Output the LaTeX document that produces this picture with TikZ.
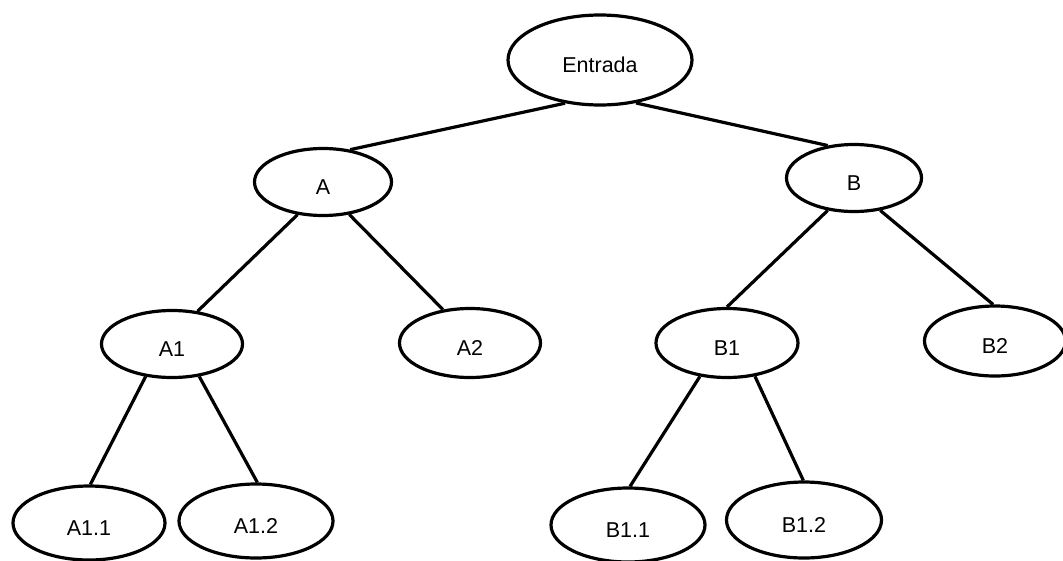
\documentclass[tikz,border=0pt]{standalone}
\usepackage{fontspec}
\setmainfont{Liberation Sans}
\usetikzlibrary{shapes.geometric}
\tikzset{
  nodo/.style={ellipse,draw,line width=3.2pt,inner sep=0pt,
    font=\fontsize{21.5}{24}\selectfont,text height=25pt,text depth=0pt},
  rama/.style={line width=3.2pt}
}
\begin{document}
\begin{tikzpicture}[x=1pt,y=-1pt,line cap=butt,line join=round]
  \useasboundingbox (0,0) rectangle (1063,560);
  \node[nodo,minimum width=184pt,minimum height=90pt] (ent) at (600,60) {Entrada};
  \node[nodo,minimum width=137pt,minimum height=67pt] (a) at (323,182) {A};
  \node[nodo,minimum width=135pt,minimum height=67pt] (b) at (854,178) {B};
  \node[nodo,minimum width=141pt,minimum height=67pt] (a1) at (172,344) {A1};
  \node[nodo,minimum width=141pt,minimum height=69pt] (a2) at (470,343) {A2};
  \node[nodo,minimum width=142pt,minimum height=69pt] (b1) at (727,343) {B1};
  \node[nodo,minimum width=141pt,minimum height=70pt] (b2) at (995,341) {B2};
  \node[nodo,minimum width=152pt,minimum height=74pt] (a11) at (89,523) {A1.1};
  \node[nodo,minimum width=154pt,minimum height=74pt] (a12) at (256,521) {A1.2};
  \node[nodo,minimum width=154pt,minimum height=74pt] (b11) at (628,525) {B1.1};
  \node[nodo,minimum width=155pt,minimum height=76pt] (b12) at (804,520) {B1.2};
  \draw[rama] (ent.231) -- (a.50);
  \draw[rama] (ent.310) -- (b.129);
  \draw[rama] (a.232) -- (a1.52);
  \draw[rama] (a.309) -- (a2.129);
  \draw[rama] (a1.231) -- (a11.88);
  \draw[rama] (a1.310) -- (a12.88);
  \draw[rama] (b.231) -- (b1.90);
  \draw[rama] (b.309) -- (b2.93);
  \draw[rama] (b1.231) -- (b11.87);
  \draw[rama] (b1.310) -- (b12.91);
\end{tikzpicture}
\end{document}
